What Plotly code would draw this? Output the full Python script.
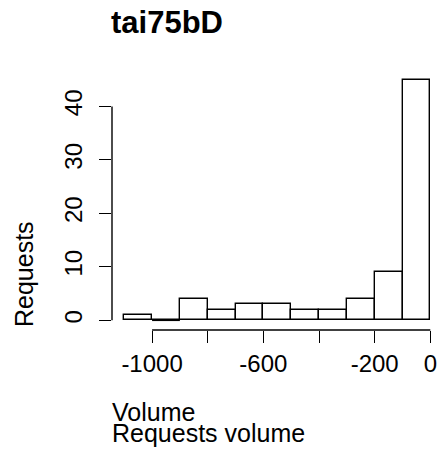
import plotly.graph_objects as go

# Histogram of request volumes: bin edges and counts per bin
bin_edges = [-1100, -1000, -900, -800, -700, -600, -500, -400, -300, -200, -100, 0]
counts = [1, 0, 4, 2, 3, 3, 2, 2, 4, 9, 45]

x_tick_values = [-1000, -800, -600, -400, -200, 0]
x_tick_labels = ["-1000", "", "-600", "", "-200", "0"]
y_tick_values = [0, 10, 20, 30, 40]
y_tick_labels = ["0", "10", "20", "30", "40"]

title_text = "tai75bD"
x_title_lines = ["Volume", "Requests volume"]
y_title_text = "Requests"

FONT = "Liberation Sans, Arial, Helvetica, sans-serif"
INK = "black"
LW = 1.4

centers = [(a + b) / 2 for a, b in zip(bin_edges[:-1], bin_edges[1:])]
widths = [b - a for a, b in zip(bin_edges[:-1], bin_edges[1:])]

fig = go.Figure()
fig.add_trace(go.Bar(
    x=centers, y=counts, width=widths,
    marker=dict(color="white", line=dict(color=INK, width=LW)),
    hoverinfo="x+y", showlegend=False,
))

# empty bins still show their outline along the baseline
for a, b, c in zip(bin_edges[:-1], bin_edges[1:], counts):
    if c == 0:
        fig.add_trace(go.Scatter(
            x=[a, b], y=[0, 0], mode="lines",
            line=dict(color=INK, width=LW), showlegend=False, hoverinfo="skip",
        ))

# plot region in pixels
W, H = 437, 452
L, R, T, B = 112, 0, 70, 122
plot_h = H - T - B


def py(pix):
    """paper y from a pixel row"""
    return (H - B - pix) / plot_h


def px(pix):
    return (pix - L) / (W - L - R)


fig.update_layout(
    width=W, height=H,
    margin=dict(l=L, r=R, t=T, b=B),
    paper_bgcolor="white", plot_bgcolor="white",
    bargap=0,
    font=dict(family=FONT, size=24, color=INK),
    xaxis=dict(
        range=[-1144, 24], showgrid=False, zeroline=False, showline=False,
        tickmode="array", tickvals=x_tick_values, ticktext=x_tick_labels,
        ticks="outside", ticklen=12, tickwidth=LW, tickcolor=INK,
        tickfont=dict(size=24, color=INK, family=FONT),
    ),
    yaxis=dict(
        range=[-1.8, 46.8], showgrid=False, zeroline=False, showline=False,
        tickmode="array", tickvals=y_tick_values, ticktext=y_tick_labels,
        ticks="outside", ticklen=12, tickwidth=LW, tickcolor=INK, tickangle=-90,
        ticklabelstandoff=7,
        tickfont=dict(size=24, color=INK, family=FONT),
    ),
    shapes=[
        dict(type="line", xref="x", yref="paper", x0=x_tick_values[0], x1=x_tick_values[-1],
             y0=0, y1=0, line=dict(color=INK, width=LW)),
        dict(type="line", xref="paper", yref="y", x0=0, x1=0,
             y0=y_tick_values[0], y1=y_tick_values[-1], line=dict(color=INK, width=LW)),
    ],
    annotations=[
        dict(text="<b>" + title_text + "</b>", xref="paper", yref="paper",
             x=px(109), y=py(23), xanchor="left", yanchor="middle", showarrow=False,
             font=dict(size=31, family=FONT, color=INK)),
        dict(text=x_title_lines[0], xref="paper", yref="paper",
             x=px(110), y=py(412), xanchor="left", yanchor="middle", showarrow=False,
             font=dict(size=25, family=FONT, color=INK)),
        dict(text=x_title_lines[1], xref="paper", yref="paper",
             x=px(110), y=py(433), xanchor="left", yanchor="middle", showarrow=False,
             font=dict(size=25, family=FONT, color=INK)),
        dict(text=y_title_text, xref="paper", yref="paper", textangle=-90,
             x=px(24), y=py(274), xanchor="center", yanchor="middle", showarrow=False,
             font=dict(size=25, family=FONT, color=INK)),
    ],
)

fig.write_html("out.html")
